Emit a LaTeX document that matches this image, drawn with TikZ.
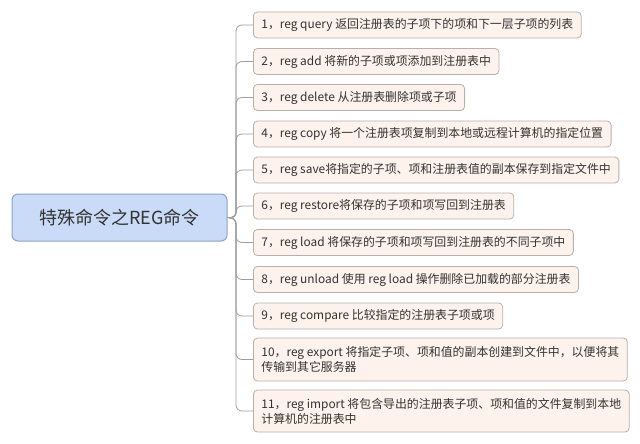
\documentclass[tikz,border=0pt]{standalone}
\usepackage{fontspec}
\setmainfont{Noto Sans CJK SC}
\definecolor{rootfill}{HTML}{C9DBF7}
\definecolor{rootline}{HTML}{8AA3CC}
\definecolor{kidfill}{HTML}{FDF3EC}
\definecolor{kidline}{HTML}{B9B0AC}
\definecolor{txt}{HTML}{333333}
\definecolor{conncol}{HTML}{9E9E9E}
\tikzset{
  rootbox/.style={draw=rootline, line width=1pt, fill=rootfill, rounded corners=6pt,
    minimum width=215pt, minimum height=47pt, inner sep=0pt, text=txt, font=\fontsize{18}{20}\selectfont},
  kidbox/.style={draw=kidline, line width=0.8pt, fill=kidfill, rounded corners=4pt,
    anchor=west, minimum height=26pt, inner xsep=8pt, inner ysep=3pt, text=txt,
    align=left, font=\fontsize{11.9}{15}\selectfont},
  conn/.style={draw=conncol, line width=0.8pt, rounded corners=6pt}
}
\begin{document}
\begin{tikzpicture}[x=1pt,y=-1pt]
\useasboundingbox (0,0) rectangle (640,444);
\fill[white] (0,0) rectangle (640,444);
\node[rootbox] (root) at (119.5,217.5) {特殊命令之REG命令};
\coordinate (j) at (236,218);
\node[kidbox] (c1) at (253,25) {1，reg query 返回注册表的子项下的项和下一层子项的列表};
\node[kidbox] (c2) at (253,61.5) {2，reg add 将新的子项或项添加到注册表中};
\node[kidbox] (c3) at (253,97.5) {3，reg delete 从注册表删除项或子项};
\node[kidbox] (c4) at (253,134) {4，reg copy 将一个注册表项复制到本地或远程计算机的指定位置};
\node[kidbox] (c5) at (253,170) {5，reg save将指定的子项、项和注册表值的副本保存到指定文件中};
\node[kidbox] (c6) at (253,206) {6，reg restore将保存的子项和项写回到注册表};
\node[kidbox] (c7) at (253,242.5) {7，reg load 将保存的子项和项写回到注册表的不同子项中};
\node[kidbox] (c8) at (253,279.5) {8，reg unload 使用 reg load 操作删除已加载的部分注册表};
\node[kidbox] (c9) at (253,316) {9，reg compare 比较指定的注册表子项或项};
\node[kidbox, minimum height=43pt] (c10) at (253,359.5) {10，reg export 将指定子项、项和值的副本创建到文件中，以便将其\\传输到其它服务器};
\node[kidbox, minimum height=42pt] (c11) at (253,411) {11，reg import 将包含导出的注册表子项、项和值的文件复制到本地\\计算机的注册表中};
\foreach \k in {c1,c2,c3,c4,c5,c6,c7,c8,c9,c10,c11}{
  \draw[conn] (root.east) -- (j) |- (\k.west);
}
\end{tikzpicture}
\end{document}
